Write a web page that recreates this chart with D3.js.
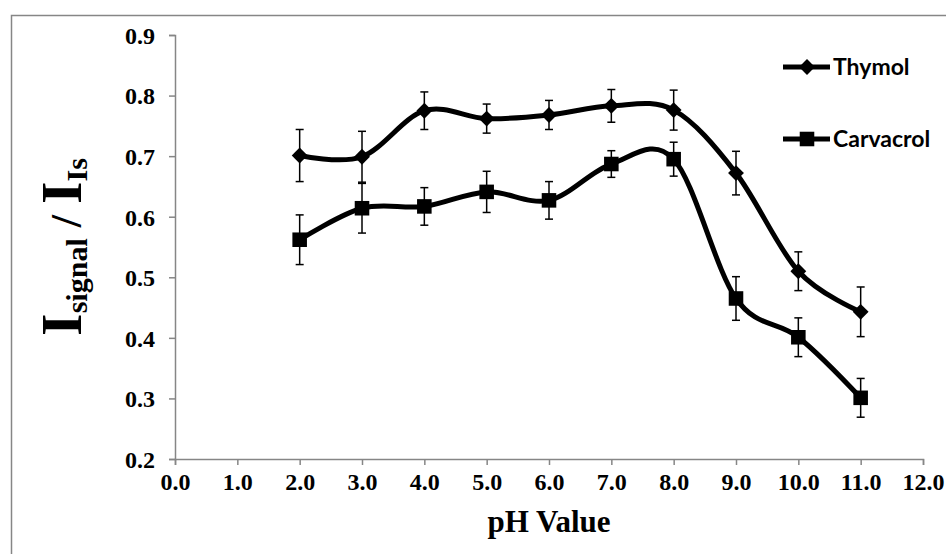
<!DOCTYPE html>
<html>
<head>
<meta charset="utf-8">
<script src="https://cdn.jsdelivr.net/npm/d3@7/dist/d3.min.js"></script>
<style>
  html, body { margin: 0; padding: 0; background: #fff; }
  svg { display: block; }
</style>
</head>
<body>
<svg id="chart" width="946" height="554"></svg>
<script>
// ---- data ----
const phValues = [2, 3, 4, 5, 6, 7, 8, 9, 10, 11];
const thymol = [0.701, 0.699, 0.775, 0.762, 0.768, 0.783, 0.776, 0.672, 0.510, 0.443];
const thymolErr = [0.043, 0.042, 0.031, 0.024, 0.024, 0.027, 0.033, 0.036, 0.032, 0.041];
const carvacrol = [0.562, 0.614, 0.617, 0.641, 0.627, 0.687, 0.695, 0.465, 0.401, 0.301];
const carvacrolErr = [0.041, 0.041, 0.031, 0.034, 0.031, 0.022, 0.028, 0.036, 0.032, 0.032];
const xTicks = [0, 1, 2, 3, 4, 5, 6, 7, 8, 9, 10, 11, 12];
const yTicks = [0.2, 0.3, 0.4, 0.5, 0.6, 0.7, 0.8, 0.9];
const seriesNames = ["Thymol", "Carvacrol"];

// ---- layout ----
const svg = d3.select("#chart");
const axisColor = "#868686";
const serif = "'Liberation Serif', 'Times New Roman', serif";

// outer frame
svg.append("rect")
  .attr("x", 11.5).attr("y", 15.5)
  .attr("width", 1000).attr("height", 600)
  .attr("fill", "none").attr("stroke", axisColor).attr("stroke-width", 1.5);

const x = d3.scaleLinear().domain([0, 12]).range([175, 923]);
const y = d3.scaleLinear().domain([0.2, 0.9]).range([459, 35]);

// axes
const xAxis = svg.append("g").attr("transform", `translate(0,${y(0.2)})`)
  .call(d3.axisBottom(x).tickValues(xTicks).tickFormat(d3.format(".1f")).tickSize(6).tickPadding(8));
const yAxis = svg.append("g").attr("transform", `translate(${x(0)},0)`)
  .call(d3.axisLeft(y).tickValues(yTicks).tickFormat(d3.format(".1f")).tickSize(6).tickPadding(14));

[xAxis, yAxis].forEach(g => {
  g.select(".domain").attr("stroke", axisColor).attr("stroke-width", 1.5);
  g.selectAll(".tick line").attr("stroke", axisColor).attr("stroke-width", 1.5);
  g.selectAll(".tick text")
    .attr("fill", "#000")
    .style("font-family", serif)
    .style("font-weight", "bold")
    .style("font-size", "24px");
});
yAxis.selectAll(".tick text").attr("dy", "0.35em");

// axis titles
svg.append("text")
  .attr("x", (x(0) + x(12)) / 2).attr("y", 532)
  .attr("text-anchor", "middle")
  .style("font-family", serif).style("font-weight", "bold").style("font-size", "31px")
  .text("pH Value");

const yTitle = svg.append("text")
  .attr("transform", `translate(81,${(y(0.2) + y(0.9)) / 2}) rotate(-90)`)
  .attr("text-anchor", "middle")
  .style("font-family", serif).style("font-weight", "bold");
yTitle.append("tspan").style("font-size", "58px").text("I");
yTitle.append("tspan").style("font-size", "30px").attr("dy", 6).text("signal");
yTitle.append("tspan").style("font-size", "44px").attr("dy", -6).text(" / ");
yTitle.append("tspan").style("font-size", "58px").text("I");
yTitle.append("tspan").style("font-size", "30px").attr("dy", 6).text("Is");

// ---- series ----
const series = [
  { name: seriesNames[0], values: thymol, errs: thymolErr, symbol: d3.symbolDiamond2, size: 160 },
  { name: seriesNames[1], values: carvacrol, errs: carvacrolErr, symbol: d3.symbolSquare2, size: 270 }
];

const line = d3.line()
  .x(d => x(d[0])).y(d => y(d[1]))
  .curve(d3.curveCardinal.tension(0));

const capW = 4;
series.forEach(s => {
  const pts = phValues.map((p, i) => [p, s.values[i], s.errs[i]]);
  const eb = svg.append("g").attr("stroke", "#000").attr("stroke-width", 1.5);
  eb.selectAll("line.v").data(pts).join("line")
    .attr("x1", d => x(d[0])).attr("x2", d => x(d[0]))
    .attr("y1", d => y(d[1] - d[2])).attr("y2", d => y(d[1] + d[2]));
  eb.selectAll("line.t").data(pts).join("line")
    .attr("x1", d => x(d[0]) - capW).attr("x2", d => x(d[0]) + capW)
    .attr("y1", d => y(d[1] + d[2])).attr("y2", d => y(d[1] + d[2]));
  eb.selectAll("line.b").data(pts).join("line")
    .attr("x1", d => x(d[0]) - capW).attr("x2", d => x(d[0]) + capW)
    .attr("y1", d => y(d[1] - d[2])).attr("y2", d => y(d[1] - d[2]));
});

series.forEach(s => {
  const pts = phValues.map((p, i) => [p, s.values[i]]);
  svg.append("path").datum(pts)
    .attr("d", line).attr("fill", "none").attr("stroke", "#000").attr("stroke-width", 5)
    .attr("stroke-linejoin", "round");
  svg.append("g").selectAll("path").data(pts).join("path")
    .attr("transform", d => `translate(${x(d[0])},${y(d[1])})`)
    .attr("d", d3.symbol(s.symbol, s.size)).attr("fill", "#000");
});

// ---- legend ----
const legendY = [67, 139];
series.forEach((s, i) => {
  const g = svg.append("g").attr("transform", `translate(783,${legendY[i]})`);
  g.append("line").attr("x1", 0).attr("x2", 47).attr("y1", 0).attr("y2", 0)
    .attr("stroke", "#000").attr("stroke-width", 5);
  g.append("path").attr("transform", "translate(24,0)")
    .attr("d", d3.symbol(s.symbol, s.size)).attr("fill", "#000");
  g.append("text").attr("x", 50).attr("y", 8)
    .style("font-family", "Lato, 'Open Sans', sans-serif").style("font-weight", "bold")
    .style("font-size", "23px").text(s.name);
});
</script>
</body>
</html>
